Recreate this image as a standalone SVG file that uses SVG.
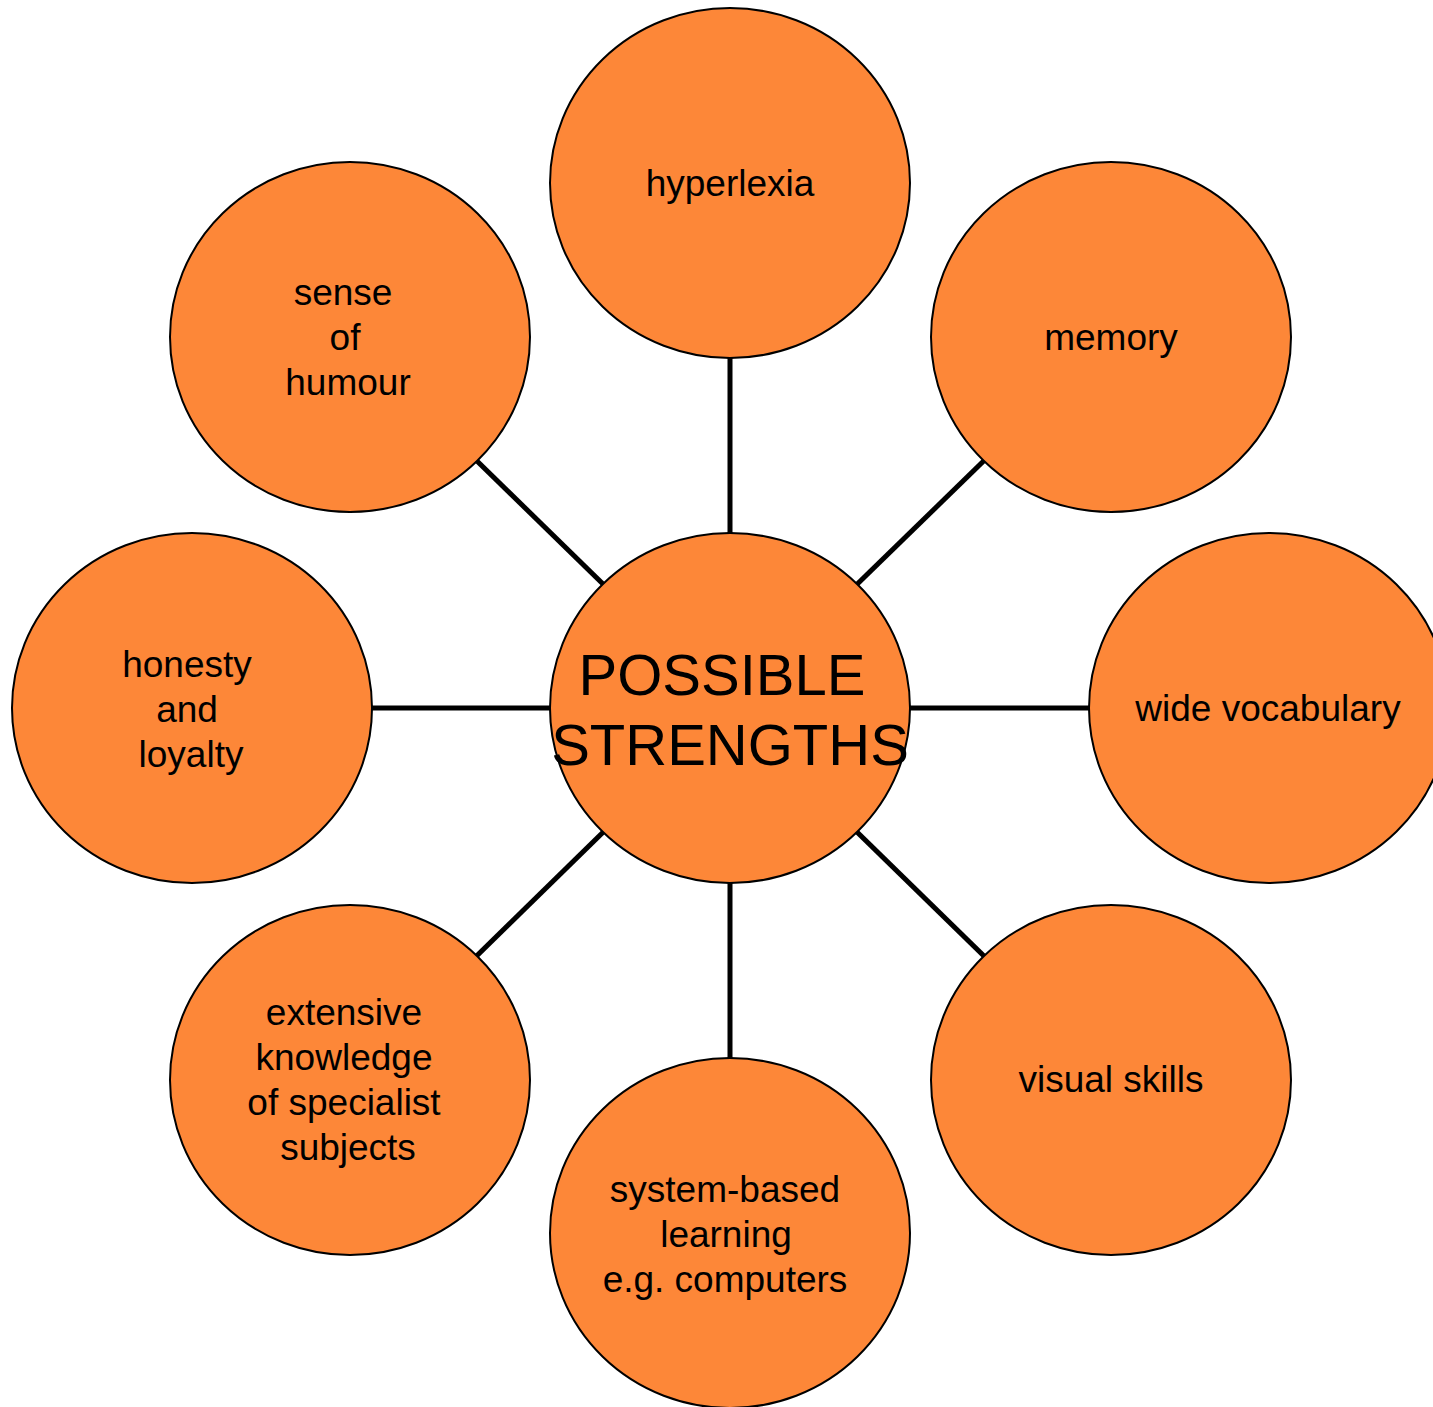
<svg xmlns="http://www.w3.org/2000/svg" width="1433" height="1407" viewBox="0 0 1433 1407">
<style>
.n{fill:#FD8738;stroke:#000;stroke-width:2}
.t{font-family:"Liberation Sans",Arial,sans-serif;font-size:37px;fill:#000;text-anchor:middle}
.c{font-family:"Liberation Sans",Arial,sans-serif;font-size:58px;fill:#000;text-anchor:middle}
.e{stroke:#000;stroke-width:5;fill:none}
</style>
<rect width="1433" height="1407" fill="#fff"/>
<g id="connectors">
<line class="e" x1="730" y1="708" x2="730" y2="183"/>
<line class="e" x1="730" y1="708" x2="1111" y2="337"/>
<line class="e" x1="730" y1="708" x2="1269" y2="708"/>
<line class="e" x1="730" y1="708" x2="1111" y2="1080"/>
<line class="e" x1="730" y1="708" x2="730" y2="1233"/>
<line class="e" x1="730" y1="708" x2="350" y2="1080"/>
<line class="e" x1="730" y1="708" x2="192" y2="708"/>
<line class="e" x1="730" y1="708" x2="350" y2="337"/>
</g>
<g id="hyperlexia">
<ellipse class="n" cx="730" cy="183" rx="180" ry="175"/>
<text class="t" x="730" y="196">hyperlexia</text>
</g>
<g id="memory">
<ellipse class="n" cx="1111" cy="337" rx="180" ry="175"/>
<text class="t" x="1111" y="350">memory</text>
</g>
<g id="wide-vocabulary">
<ellipse class="n" cx="1269" cy="708" rx="180" ry="175"/>
<text class="t" x="1268" y="721">wide vocabulary</text>
</g>
<g id="visual-skills">
<ellipse class="n" cx="1111" cy="1080" rx="180" ry="175"/>
<text class="t" x="1111" y="1092">visual skills</text>
</g>
<g id="system-based">
<ellipse class="n" cx="730" cy="1233" rx="180" ry="175"/>
<text class="t" x="725" y="1202">system-based</text>
<text class="t" x="726" y="1247">learning</text>
<text class="t" x="725" y="1292">e.g. computers</text>
</g>
<g id="extensive-knowledge">
<ellipse class="n" cx="350" cy="1080" rx="180" ry="175"/>
<text class="t" x="344" y="1025">extensive</text>
<text class="t" x="344" y="1070">knowledge</text>
<text class="t" x="344" y="1115">of specialist</text>
<text class="t" x="348" y="1160">subjects</text>
</g>
<g id="honesty">
<ellipse class="n" cx="192" cy="708" rx="180" ry="175"/>
<text class="t" x="187" y="677">honesty</text>
<text class="t" x="187" y="722">and</text>
<text class="t" x="191" y="767">loyalty</text>
</g>
<g id="sense-of-humour">
<ellipse class="n" cx="350" cy="337" rx="180" ry="175"/>
<text class="t" x="343" y="305">sense</text>
<text class="t" x="345" y="350">of</text>
<text class="t" x="348" y="395">humour</text>
</g>
<g id="center">
<ellipse class="n" cx="730" cy="708" rx="180" ry="175"/>
<text class="c" x="722" y="695">POSSIBLE</text>
<text class="c" x="730" y="765">STRENGTHS</text>
</g>
</svg>
